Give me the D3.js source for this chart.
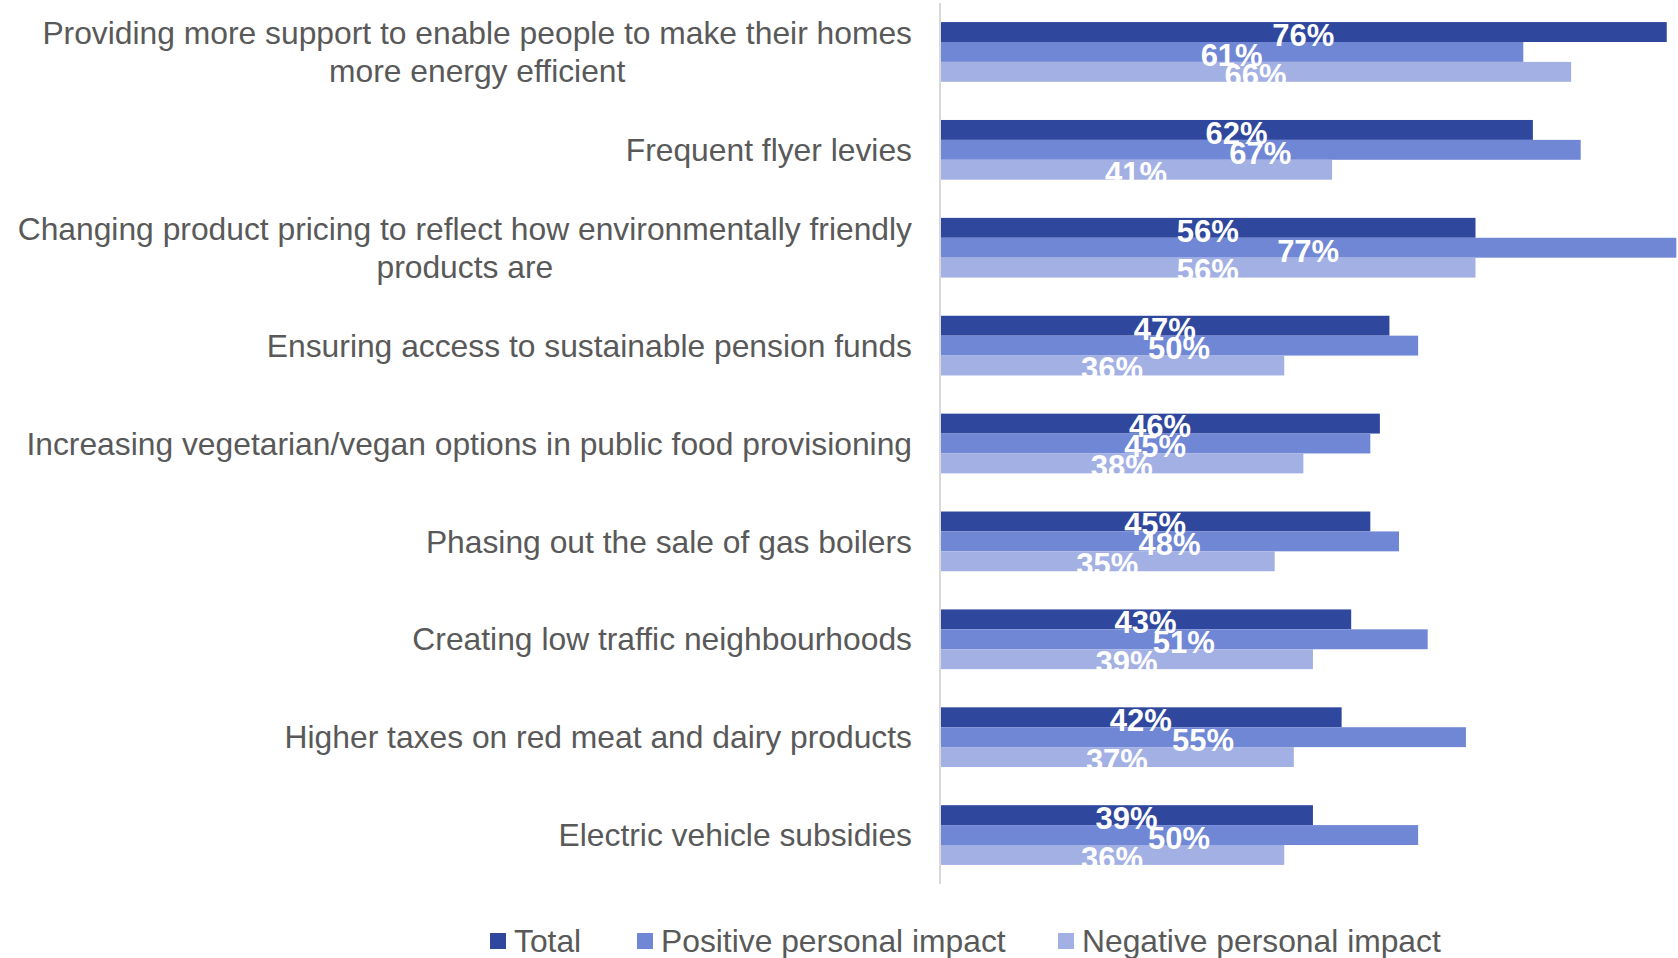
<!DOCTYPE html>
<html>
<head>
<meta charset="utf-8">
<script src="https://cdn.jsdelivr.net/npm/d3@7"></script>
<style>
  html, body { margin: 0; padding: 0; background: #fff; }
  svg { display: block; font-family: "Liberation Sans", Arial, sans-serif; }
</style>
</head>
<body>
<svg id="chart" width="1678" height="958"></svg>
<script>
// Policy options (each entry may contain line breaks for wrapped labels)
const categories = [
  "Providing more support to enable people to make their homes\nmore energy efficient",
  "Frequent flyer levies",
  "Changing product pricing to reflect how environmentally friendly\nproducts are",
  "Ensuring access to sustainable pension funds",
  "Increasing vegetarian/vegan options in public food provisioning",
  "Phasing out the sale of gas boilers",
  "Creating low traffic neighbourhoods",
  "Higher taxes on red meat and dairy products",
  "Electric vehicle subsidies"
];
const seriesNames = ["Total", "Positive personal impact", "Negative personal impact"];
const totalValues    = [0.76, 0.62, 0.56, 0.47, 0.46, 0.45, 0.43, 0.42, 0.39];
const positiveValues = [0.61, 0.67, 0.77, 0.50, 0.45, 0.48, 0.51, 0.55, 0.50];
const negativeValues = [0.66, 0.41, 0.56, 0.36, 0.38, 0.35, 0.39, 0.37, 0.36];
const seriesColors = ["#2f479d", "#7087d5", "#a3b0e3"];

const allSeries = [totalValues, positiveValues, negativeValues];
const rows = categories.map((c, i) => ({
  category: c,
  values: allSeries.map((vals, s) => ({ series: seriesNames[s], value: vals[i] }))
}));

const svg = d3.select("#chart");
const axisX = 940;
const plotTop = 3, plotBottom = 884;

const x = d3.scaleLinear().domain([0, 0.8]).range([axisX, axisX + 765]);
const y0 = d3.scaleBand().domain(categories).range([plotTop, plotBottom])
  .paddingInner(0.39).paddingOuter(0.195);
const y1 = d3.scaleBand().domain(seriesNames).range([0, y0.bandwidth()]);
const color = d3.scaleOrdinal().domain(seriesNames).range(seriesColors);

// Bars
const groups = svg.append("g").selectAll("g").data(rows).join("g")
  .attr("transform", d => `translate(0,${y0(d.category)})`);

groups.selectAll("rect").data(d => d.values).join("rect")
  .attr("x", x(0))
  .attr("y", d => y1(d.series))
  .attr("width", d => x(d.value) - x(0))
  .attr("height", y1.bandwidth())
  .attr("fill", d => color(d.series));

// Vertical category axis line
svg.append("line")
  .attr("x1", axisX).attr("x2", axisX)
  .attr("y1", plotTop).attr("y2", plotBottom)
  .attr("stroke", "#d9d9d9").attr("stroke-width", 2);

// Value labels, centred on each bar, drawn above every bar
const fmt = d3.format(".0%");
svg.append("g").selectAll("g").data(rows).join("g")
  .attr("transform", d => `translate(0,${y0(d.category)})`)
  .selectAll("text").data(d => d.values).join("text")
  .attr("x", d => (x(0) + x(d.value)) / 2)
  .attr("y", d => y1(d.series) + y1.bandwidth() / 2 + 3)
  .attr("dy", "0.35em")
  .attr("text-anchor", "middle")
  .attr("fill", "#fff")
  .attr("font-weight", "bold")
  .attr("font-size", 31)
  .text(d => fmt(d.value));

// Category labels: right edge at a fixed x, wrapped lines centred on each other
const labelRight = 912;
const lineHeight = 37.5;
const labels = svg.append("g").selectAll("text").data(categories).join("text")
  .attr("font-size", 31.8)
  .attr("fill", "#595959")
  .attr("text-anchor", "middle");

labels.each(function (d) {
  const t = d3.select(this);
  const lines = d.split("\n");
  const cy = y0(d) + y0.bandwidth() / 2;
  lines.forEach((ln, i) => {
    t.append("tspan")
      .attr("y", cy + (i - (lines.length - 1) / 2) * lineHeight)
      .attr("dy", "0.35em")
      .text(ln);
  });
  let maxW = 0;
  t.selectAll("tspan").each(function () {
    maxW = Math.max(maxW, this.getComputedTextLength());
  });
  t.selectAll("tspan").attr("x", labelRight - maxW / 2);
});

// Legend
const legendY = 941;
const legendX = [490, 637, 1058];
const legend = svg.append("g").selectAll("g").data(seriesNames).join("g")
  .attr("transform", (d, i) => `translate(${legendX[i]},${legendY})`);
legend.append("rect")
  .attr("x", 0).attr("y", -8).attr("width", 16).attr("height", 16)
  .attr("fill", d => color(d));
legend.append("text")
  .attr("x", 24).attr("y", 0).attr("dy", "0.35em")
  .attr("font-size", 31.8).attr("fill", "#595959")
  .text(d => d);
</script>
</body>
</html>
